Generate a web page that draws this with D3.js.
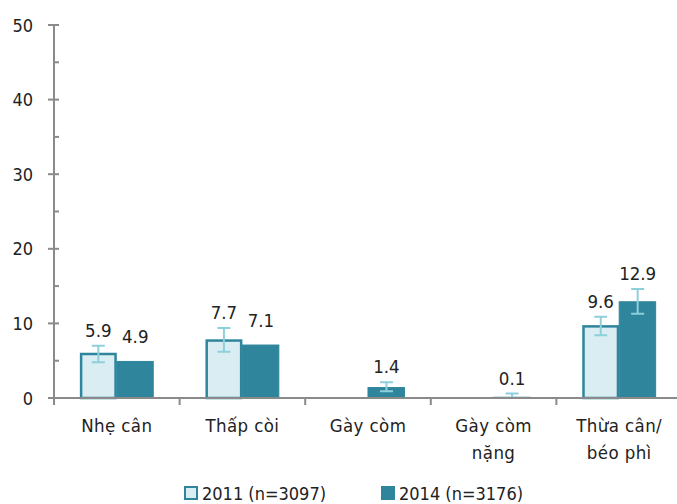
<!DOCTYPE html>
<html>
<head>
<meta charset="utf-8">
<script src="https://cdn.jsdelivr.net/npm/d3@7"></script>
<style>
body { margin: 0; background: #fff; }
text { font-family: "Liberation Sans Narrow", "DejaVu Sans Condensed", "Arial Narrow", sans-serif; fill: #222; }
</style>
</head>
<body>
<script>
// data
var categories = [["Nhẹ cân"], ["Thấp còi"], ["Gày còm"], ["Gày còm", "nặng"], ["Thừa cân/", "béo phì"]];
var years = ["2011 (n=3097)", "2014 (n=3176)"];
var values2011 = [5.9, 7.7, null, null, 9.6];
var values2014 = [4.9, 7.1, 1.4, 0.1, 12.9];
var ciLow2011 = [4.8, 6.2, null, null, 8.4];
var ciHigh2011 = [7.0, 9.4, null, null, 10.9];
var ciLow2014 = [null, null, 0.9, 0.0, 11.3];
var ciHigh2014 = [null, null, 2.1, 0.6, 14.6];
var yTicks = [0, 10, 20, 30, 40, 50];

var width = 677, height = 504;
var x0 = 54, x1 = 682, yTop = 25, yBottom = 398;

var fills = ["#daedf3", "#2f869c"];
var strokes = ["#2f869c", "#2f869c"];
var errColor = "#8ecfdc";
var axisColor = "#8a8a8a";

var svg = d3.select("body").append("svg")
    .attr("width", width)
    .attr("height", height);

var x = d3.scaleBand()
    .domain(d3.range(categories.length))
    .range([x0, x1])
    .paddingInner(0)
    .paddingOuter(0);

var xs = d3.scaleBand()
    .domain([0, 1])
    .range([0, x.bandwidth()])
    .paddingInner(0)
    .paddingOuter(0.7);

var y = d3.scaleLinear()
    .domain([0, 50])
    .range([yBottom, yTop]);

// y axis
var yAxis = svg.append("g");
yAxis.append("line")
    .attr("x1", x0).attr("x2", x0)
    .attr("y1", y(50)).attr("y2", y(0))
    .attr("stroke", axisColor).attr("stroke-width", 2);
yAxis.selectAll(".major").data(yTicks).enter().append("line")
    .attr("x1", x0 - 6).attr("x2", x0 + 5)
    .attr("y1", function(d) { return y(d); })
    .attr("y2", function(d) { return y(d); })
    .attr("stroke", axisColor).attr("stroke-width", 2);
yAxis.selectAll(".minor").data([5, 15, 25, 35, 45]).enter().append("line")
    .attr("x1", x0).attr("x2", x0 + 5)
    .attr("y1", function(d) { return y(d); })
    .attr("y2", function(d) { return y(d); })
    .attr("stroke", axisColor).attr("stroke-width", 2);
yAxis.selectAll("text").data(yTicks).enter().append("text")
    .attr("x", 33)
    .attr("y", function(d) { return y(d) + 6.5; })
    .attr("text-anchor", "end")
    .attr("font-size", 18)
    .text(function(d) { return d; });

// bars
var series = [
    {vals: values2011, lo: ciLow2011, hi: ciHigh2011},
    {vals: values2014, lo: ciLow2014, hi: ciHigh2014}
];

series.forEach(function(s, si) {
    var g = svg.append("g");
    var rows = s.vals.map(function(v, i) {
        return {i: i, v: v, lo: s.lo[i], hi: s.hi[i]};
    }).filter(function(d) { return d.v !== null; });

    g.selectAll("rect").data(rows).enter().append("rect")
        .attr("x", function(d) { return x(d.i) + xs(si) + (si === 0 ? 1.25 : 0); })
        .attr("width", function(d) { return xs.bandwidth() - (si === 0 ? 2.5 : 0.5); })
        .attr("y", function(d) { return y(d.v); })
        .attr("height", function(d) { return y(0) - y(d.v); })
        .attr("fill", fills[si])
        .attr("stroke", strokes[si])
        .attr("stroke-width", si === 0 ? 2.5 : 1);

    var eb = rows.filter(function(d) { return d.hi !== null; });
    var cx = function(d) { return x(d.i) + xs(si) + xs.bandwidth() / 2; };
    g.selectAll(".err").data(eb).enter().append("path")
        .attr("d", function(d) {
            var c = cx(d), a = y(d.hi), b = y(d.lo);
            return "M" + c + "," + a + "V" + b +
                "M" + (c - 6.5) + "," + a + "H" + (c + 6.5) +
                "M" + (c - 6.5) + "," + b + "H" + (c + 6.5);
        })
        .attr("stroke", errColor).attr("stroke-width", 2).attr("fill", "none");

    g.selectAll("text").data(rows).enter().append("text")
        .attr("x", cx)
        .attr("y", function(d) {
            return d.hi !== null ? y(d.hi) - 9 : y(d.v) - 18;
        })
        .attr("text-anchor", "middle")
        .attr("font-size", 18.5)
        .text(function(d) { return d.v.toFixed(1); });
});

// x axis
var xAxis = svg.append("g");
xAxis.append("line")
    .attr("x1", x0 - 6).attr("x2", width)
    .attr("y1", yBottom).attr("y2", yBottom)
    .attr("stroke", axisColor).attr("stroke-width", 2);
xAxis.selectAll(".tick").data(d3.range(0, categories.length)).enter().append("line")
    .attr("x1", function(d) { return x(d); })
    .attr("x2", function(d) { return x(d); })
    .attr("y1", yBottom).attr("y2", yBottom + 7)
    .attr("stroke", axisColor).attr("stroke-width", 2);

var catG = xAxis.selectAll(".cat").data(categories).enter().append("text")
    .attr("x", function(d, i) { return x(i) + x.bandwidth() / 2; })
    .attr("y", 432)
    .attr("text-anchor", "middle")
    .attr("font-size", 18.5)
    .attr("letter-spacing", 0.4);
catG.selectAll("tspan").data(function(d) { return d; }).enter().append("tspan")
    .attr("x", function() { return d3.select(this.parentNode).attr("x"); })
    .attr("dy", function(d, j) { return j === 0 ? 0 : 27; })
    .text(function(d) { return d; });

// legend
var legendX = [184, 381];
var legend = svg.selectAll(".legend").data(years).enter().append("g")
    .attr("transform", function(d, i) { return "translate(" + legendX[i] + ",486)"; });
legend.append("rect")
    .attr("x", function(d, i) { return i === 0 ? 1 : 0; })
    .attr("y", function(d, i) { return i === 0 ? 1 : 0; })
    .attr("width", function(d, i) { return i === 0 ? 12 : 14; })
    .attr("height", function(d, i) { return i === 0 ? 12 : 14; })
    .attr("fill", function(d, i) { return fills[i]; })
    .attr("stroke", function(d, i) { return i === 0 ? strokes[i] : "none"; })
    .attr("stroke-width", 2);
legend.append("text")
    .attr("x", 18)
    .attr("y", 14)
    .attr("font-size", 18)
    .text(function(d) { return d; });
</script>
</body>
</html>
